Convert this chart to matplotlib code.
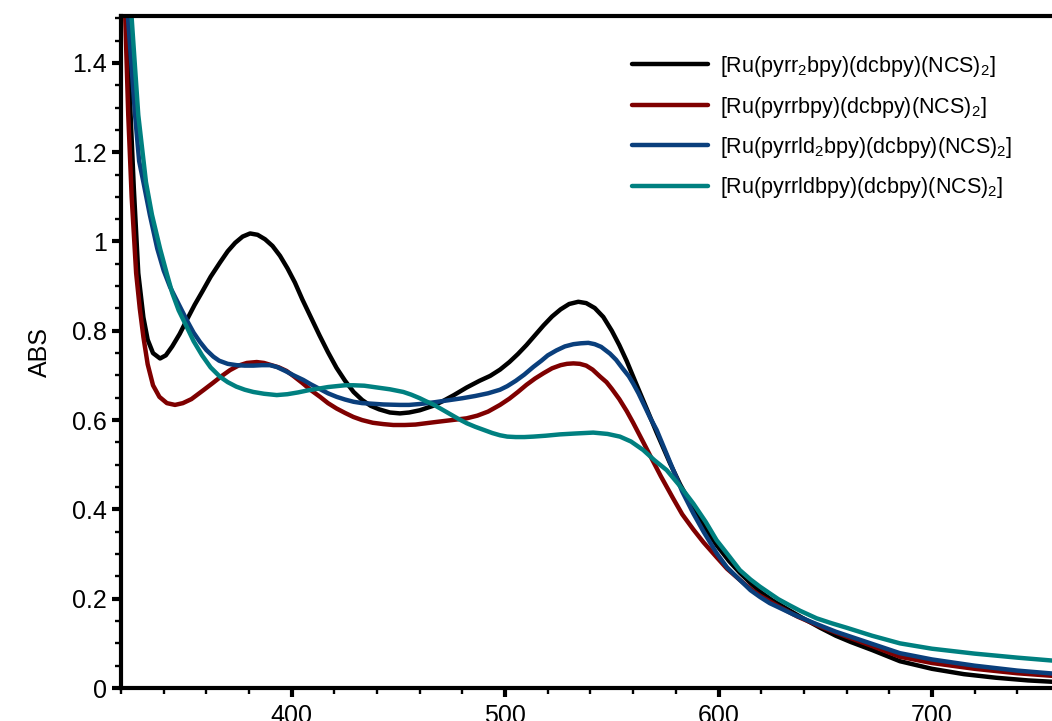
import matplotlib
matplotlib.use("Agg")
import matplotlib.pyplot as plt
from matplotlib.ticker import MultipleLocator, FuncFormatter

plt.rcParams["font.family"] = ["Liberation Sans", "DejaVu Sans"]
plt.rcParams["mathtext.fontset"] = "custom"
plt.rcParams["mathtext.rm"] = "Liberation Sans"
plt.rcParams["mathtext.it"] = "Liberation Sans"

# ── Data ─────────────────────────────────────────────────────────────

labels = [
    r"[Ru(pyrr$_2$bpy)(dcbpy)(NCS)$_2$]",
    r"[Ru(pyrrbpy)(dcbpy)(NCS)$_2$]",
    r"[Ru(pyrrld$_2$bpy)(dcbpy)(NCS)$_2$]",
    r"[Ru(pyrrldbpy)(dcbpy)(NCS)$_2$]",
]

wl_black = [320.5, 322.8, 324.5, 326, 328.1, 330.5, 332.5, 335, 338.3, 341, 344, 347.5,
            350.8, 354.5, 358, 362, 366.4, 370, 373.5, 377, 380.5, 384, 387.5, 391,
            394.5, 398, 401.5, 405, 409, 413, 417, 421, 425, 429, 433, 437, 441, 446,
            450.7, 455, 460, 466.3, 471, 476, 482, 488, 493, 497.6, 502, 506, 510, 514,
            518, 522, 526, 530, 534.3, 538, 542, 546, 550, 553.5, 557, 561, 566.3, 571,
            577.3, 582, 588.2, 593, 599.1, 605, 610, 615, 619.4, 625, 630, 638.2, 647.6,
            655, 662, 672, 685, 700, 715, 730, 745, 760]
abs_black = [1.80, 1.50, 1.283, 1.12, 0.929, 0.83, 0.78, 0.75, 0.738, 0.745, 0.765, 0.793,
             0.824, 0.858, 0.887, 0.921, 0.953, 0.978, 0.997, 1.011, 1.018, 1.015, 1.005,
             0.99, 0.968, 0.94, 0.908, 0.87, 0.83, 0.79, 0.752, 0.717, 0.688, 0.663,
             0.645, 0.632, 0.624, 0.617, 0.615, 0.617, 0.622, 0.632, 0.643, 0.656, 0.673,
             0.688, 0.699, 0.713, 0.73, 0.748, 0.768, 0.79, 0.812, 0.832, 0.848, 0.86,
             0.865, 0.862, 0.851, 0.831, 0.80, 0.768, 0.732, 0.686, 0.626, 0.572, 0.503,
             0.456, 0.402, 0.364, 0.320, 0.284, 0.258, 0.235, 0.216, 0.197, 0.183, 0.16,
             0.135, 0.117, 0.103, 0.085, 0.060, 0.043, 0.031, 0.023, 0.017, 0.013]

wl_red = [320.5, 322, 323.4, 325, 327.1, 328.8, 330.5, 332.5, 335, 338, 341.5, 345.3, 349,
          353, 358.6, 363, 367, 371.1, 375, 379, 383.6, 387, 390.5, 394, 397.6, 401, 405,
          409, 413.3, 417, 421, 425, 428.9, 433, 438, 443, 447.6, 453, 458, 463, 468,
          475, 482, 487, 492, 497.6, 502, 506, 510, 514, 518, 522, 526, 529, 532, 535,
          538, 541, 544.6, 547.5, 550, 553.5, 557, 560, 562.5, 565, 567.9, 573, 578.8,
          583, 588.2, 593, 599.1, 604, 610, 615, 619.4, 627.3, 637, 648, 660, 672, 685,
          700, 720, 740, 760]
abs_red = [1.85, 1.50, 1.283, 1.10, 0.929, 0.85, 0.786, 0.725, 0.678, 0.652, 0.638, 0.634,
           0.638, 0.647, 0.667, 0.683, 0.698, 0.712, 0.722, 0.728, 0.730, 0.728, 0.723,
           0.718, 0.710, 0.698, 0.683, 0.667, 0.652, 0.638, 0.626, 0.616, 0.607, 0.600,
           0.594, 0.591, 0.589, 0.589, 0.590, 0.593, 0.596, 0.600, 0.604, 0.61, 0.619,
           0.634, 0.648, 0.663, 0.679, 0.693, 0.705, 0.716, 0.723, 0.726, 0.727, 0.726,
           0.722, 0.713, 0.697, 0.685, 0.670, 0.647, 0.620, 0.594, 0.571, 0.548, 0.521,
           0.474, 0.424, 0.389, 0.355, 0.326, 0.293, 0.267, 0.242, 0.222, 0.207, 0.185,
           0.160, 0.137, 0.115, 0.094, 0.070, 0.056, 0.043, 0.033, 0.026]

wl_blue = [320.5, 323.3, 326.6, 328.5, 330.5, 333.5, 337, 340, 343, 347, 350.8, 354, 357,
           360, 363.3, 366, 370, 374.2, 378, 382, 386, 389.8, 393, 397, 401, 405.4, 409,
           413, 417, 421.1, 425, 429, 433, 436.7, 443, 450.7, 455, 460, 467, 474.2, 480,
           486, 492, 497.6, 501, 505, 509, 513.2, 517, 520, 524, 528, 532, 535.5, 539,
           542, 545, 549.1, 552, 555, 558, 560, 562.5, 565, 568, 571, 575, 578.8, 583,
           588.2, 593, 599.1, 604, 610, 615, 619.4, 624, 628, 635, 646, 655, 665, 675,
           685, 700, 720, 740, 760]
abs_blue = [1.95, 1.50, 1.283, 1.18, 1.133, 1.06, 0.984, 0.935, 0.898, 0.86, 0.824, 0.796,
            0.775, 0.757, 0.742, 0.733, 0.726, 0.723, 0.722, 0.722, 0.723, 0.723, 0.719,
            0.71, 0.70, 0.690, 0.68, 0.67, 0.66, 0.652, 0.646, 0.641, 0.638, 0.637, 0.635,
            0.634, 0.634, 0.636, 0.640, 0.645, 0.649, 0.654, 0.660, 0.668, 0.676, 0.688,
            0.702, 0.719, 0.733, 0.745, 0.756, 0.765, 0.770, 0.772, 0.773, 0.770, 0.764,
            0.749, 0.735, 0.716, 0.698, 0.682, 0.66, 0.635, 0.605, 0.578, 0.532, 0.488,
            0.44, 0.391, 0.35, 0.302, 0.27, 0.242, 0.219, 0.204, 0.19, 0.181, 0.165,
            0.143, 0.126, 0.11, 0.094, 0.078, 0.064, 0.050, 0.039, 0.031]

wl_teal = [320.5, 325, 328.1, 331.7, 334.5, 338.3, 341.4, 344, 347, 350.8, 354, 358, 362,
           366.4, 370, 374, 378, 382, 387, 393, 398, 403, 408, 413.3, 417, 421, 425,
           428.9, 434, 440, 446, 452.3, 456, 460, 463, 466.3, 470, 474, 478, 482, 486,
           490, 494, 497.6, 501, 505, 509, 513.2, 519, 525.7, 533, 541.3, 548, 553.8,
           559, 564.7, 570, 575.7, 582, 588.2, 594, 599.1, 605, 610, 615, 619.4, 624, 628,
           633, 638.2, 646, 653, 660, 672, 685, 700, 720, 740, 760]
abs_teal = [2.0, 1.50, 1.283, 1.133, 1.06, 0.984, 0.929, 0.885, 0.846, 0.809, 0.777, 0.745,
            0.718, 0.697, 0.685, 0.675, 0.668, 0.663, 0.659, 0.656, 0.658, 0.662, 0.667,
            0.671, 0.674, 0.676, 0.678, 0.678, 0.677, 0.673, 0.669, 0.663, 0.657, 0.649,
            0.642, 0.635, 0.625, 0.614, 0.603, 0.593, 0.585, 0.578, 0.571, 0.566, 0.563,
            0.562, 0.562, 0.563, 0.565, 0.568, 0.570, 0.572, 0.569, 0.563, 0.552, 0.533,
            0.51, 0.488, 0.452, 0.413, 0.372, 0.331, 0.295, 0.264, 0.243, 0.227, 0.212,
            0.199, 0.186, 0.173, 0.156, 0.145, 0.135, 0.117, 0.100, 0.088, 0.077, 0.068,
            0.060]

series = [
    (wl_black, abs_black, "#000000"),
    (wl_red, abs_red, "#7f0000"),
    (wl_blue, abs_blue, "#0a3f7c"),
    (wl_teal, abs_teal, "#008080"),
]

# ── Figure ───────────────────────────────────────────────────────────

W, H = 1052, 721
fig = plt.figure(figsize=(W / 100, H / 100), dpi=100)
x0, x1, y_top, y_bot = 121, 1061, 16, 688
ax = fig.add_axes([x0 / W, 1 - y_bot / H, (x1 - x0) / W, (y_bot - y_top) / H])

lines = []
for (wl, ab, col), lab in zip(series, labels):
    ln, = ax.plot(wl, ab, color=col, lw=3.2, label=lab,
                  solid_capstyle="round", solid_joinstyle="round")
    lines.append(ln)

ax.set_xlim(320, 320 + (x1 - x0) / 2.134)
ax.set_ylim(0, 1.505)

for side in ["left", "bottom", "top"]:
    ax.spines[side].set_linewidth(3)
ax.spines["right"].set_visible(False)

ax.xaxis.set_major_locator(MultipleLocator(100))
ax.xaxis.set_minor_locator(MultipleLocator(20))
ax.yaxis.set_major_locator(MultipleLocator(0.2))
ax.yaxis.set_minor_locator(MultipleLocator(0.05))
ax.yaxis.set_major_formatter(FuncFormatter(lambda v, p: f"{v:g}"))

ax.tick_params(which="major", direction="out", length=6.5, width=3, labelsize=18)
ax.tick_params(which="minor", direction="out", length=4, width=1.7)
ax.tick_params(axis="y", which="major", pad=3.5)
ax.tick_params(axis="x", which="major", pad=5)

fig.text(40 / W, 1 - 352 / H, "ABS", rotation=90, ha="center", va="center", fontsize=18)

ax.legend(handles=lines, loc="upper left", bbox_to_anchor=(632 / W, 1 - 54 / H),
          bbox_transform=fig.transFigure, frameon=False, fontsize=15.5,
          borderpad=0, borderaxespad=0, handlelength=3.53, handletextpad=0.56,
          labelspacing=0.72)

fig.savefig("out.png", dpi=100)
